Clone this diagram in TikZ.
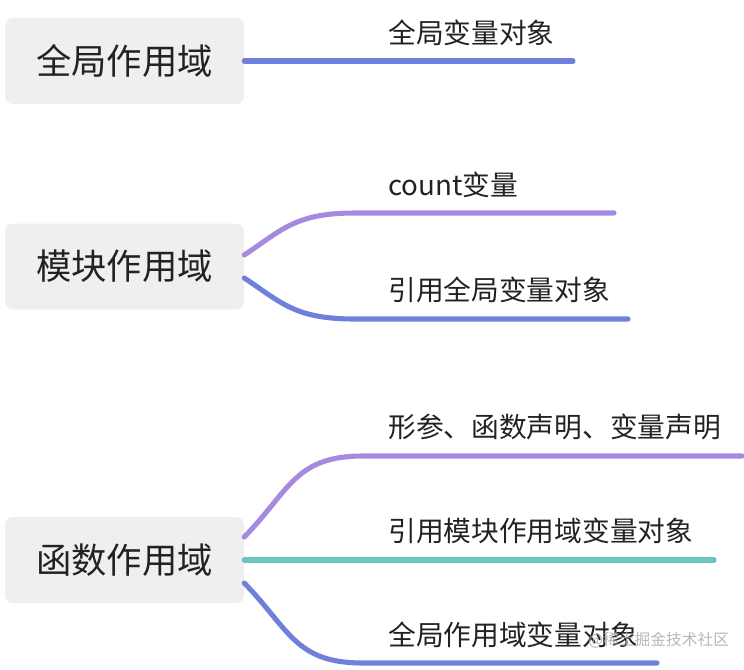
\documentclass[tikz,border=0pt]{standalone}
\usepackage{fontspec}
\setmainfont{Noto Sans CJK SC}
\newfontfamily\cjk{Noto Sans CJK SC}
\definecolor{boxfill}{HTML}{EFEFEF}
\definecolor{lblue}{HTML}{6E80DC}
\definecolor{lpurple}{HTML}{A68AE0}
\definecolor{lteal}{HTML}{69C5BD}
\definecolor{txt}{HTML}{222222}
\begin{document}
\begin{tikzpicture}[x=0.75pt,y=-0.75pt,
  rootbox/.style={fill=boxfill,rounded corners=6pt,minimum width=239*0.75pt,minimum height=86*0.75pt,inner sep=0pt,font=\cjk\fontsize{26.5pt}{30pt}\selectfont,text=txt},
  leaflabel/.style={anchor=west,inner sep=0pt,font=\cjk\fontsize{20.8pt}{24pt}\selectfont,text=txt},
  branch/.style={line width=3.8pt,line cap=round}]
\useasboundingbox (0,0) rectangle (744,669);
% roots
\node[rootbox] (r1) at (124.5,61) {全局作用域};
\node[rootbox] (r2) at (124.5,266.5) {模块作用域};
\node[rootbox] (r3) at (124.5,560) {函数作用域};
% line ends
\coordinate (e1) at (573,61);
\coordinate (e2a) at (614,213);
\coordinate (e2b) at (628,319);
\coordinate (e3a) at (742,456);
\coordinate (e3b) at (714,560);
\coordinate (e3c) at (657,663);
% branches
\draw[branch,lblue] (r1.east) -- (e1);
\draw[branch,lpurple] (r2.east |- 0,255) .. controls (282,230) and (295,213) .. (355,213) -- (e2a);
\draw[branch,lblue] (r2.east |- 0,278) .. controls (282,303) and (295,319) .. (355,319) -- (e2b);
\draw[branch,lpurple] (r3.east |- 0,537) .. controls (290,490) and (295,456) .. (363,456) -- (e3a);
\draw[branch,lteal] (r3.east) -- (e3b);
\draw[branch,lblue] (r3.east |- 0,583) .. controls (290,630) and (295,663) .. (363,663) -- (e3c);
% labels
\node[leaflabel] (l1) at (388,33) {全局变量对象};
\node[leaflabel] (l2a) at (388,185) {count变量};
\node[leaflabel] (l2b) at (388,290) {引用全局变量对象};
\node[leaflabel] (l3a) at (388,427) {形参、函数声明、变量声明};
\node[leaflabel] (l3b) at (388,531) {引用模块作用域变量对象};
\node[leaflabel] (l3c) at (388,635) {全局作用域变量对象};
% watermark
\node[anchor=west,inner sep=0pt,font=\cjk\fontsize{11.8pt}{13pt}\selectfont,text=black!35,opacity=0.8] (wm) at (588,640) {@稀土掘金技术社区};
\end{tikzpicture}
\end{document}
